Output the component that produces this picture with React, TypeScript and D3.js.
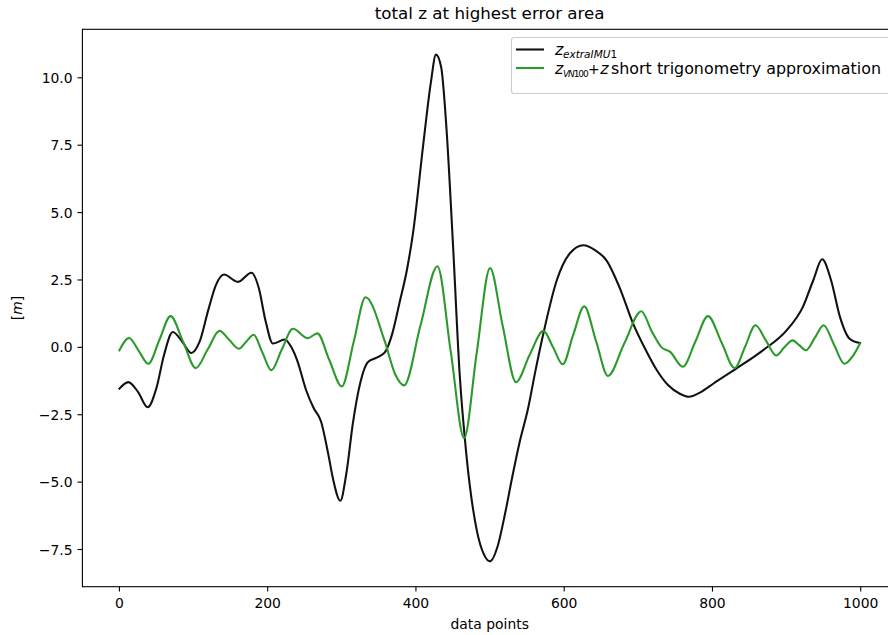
import React from "react";
import * as d3 from "d3";

// Sample index and value of the extra IMU z series (knots of a smooth trace)
const extraImuIndex = [0, 12, 25, 38, 50, 60, 72, 85, 97, 108, 120, 130, 141, 160, 178, 188, 197, 207, 223, 232, 240, 252, 262, 272, 282, 288, 298, 306, 315, 325, 335, 347, 358, 368, 378, 388, 396, 410, 420, 427, 434, 441, 450, 459, 468, 482, 492, 500, 510, 520, 530, 540, 551, 561, 571, 590, 608, 626, 642, 657, 675, 693, 710, 725, 740, 756, 768, 785, 801, 832, 868, 900, 922, 936, 948, 960, 972, 985, 999];
const extraImuZ = [-1.53, -1.29, -1.65, -2.22, -1.5, -0.3, 0.57, 0.2, -0.21, 0.2, 1.4, 2.3, 2.7, 2.43, 2.77, 2.2, 1.0, 0.14, 0.29, 0.0, -0.5, -1.6, -2.25, -2.75, -4.0, -4.86, -5.69, -4.7, -2.8, -1.3, -0.55, -0.38, -0.19, 0.5, 1.67, 2.9, 4.23, 7.56, 9.8, 10.86, 10.4, 8.2, 3.8, -1.0, -3.97, -6.78, -7.7, -7.94, -7.4, -6.2, -4.8, -3.5, -2.3, -0.9, 0.4, 2.49, 3.5, 3.79, 3.6, 3.23, 2.2, 0.88, -0.1, -0.85, -1.4, -1.72, -1.83, -1.65, -1.35, -0.79, -0.11, 0.63, 1.5, 2.49, 3.27, 2.49, 1.13, 0.32, 0.16];

// Sample index and value of the VN100 z + short trigonometry approximation
const vnIndex = [0, 13, 26, 39, 54, 69, 86, 103, 119, 135, 148, 161, 171, 181, 193, 205, 219, 234, 254, 267, 283, 300, 316, 332, 358, 372, 384, 406, 429, 447, 465, 482, 500, 517, 535, 553, 572, 585, 598, 612, 627, 643, 659, 681, 704, 718, 731, 743, 760, 777, 794, 812, 830, 844, 858, 872, 886, 897, 908, 917, 926, 938, 950, 964, 978, 990, 999];
const vnZ = [-0.11, 0.35, -0.13, -0.61, 0.28, 1.16, 0.2, -0.77, -0.08, 0.61, 0.28, -0.05, 0.21, 0.47, -0.2, -0.85, -0.08, 0.69, 0.34, 0.52, -0.46, -1.45, 0.2, 1.86, 0.22, -1.0, -1.41, 0.8, 3.01, -0.17, -3.36, -0.2, 2.94, 0.8, -1.29, -0.3, 0.61, 0.0, -0.63, 0.45, 1.52, 0.23, -1.06, 0.14, 1.34, 0.6, 0.01, -0.17, -0.72, 0.22, 1.16, 0.2, -0.77, 0.02, 0.82, 0.26, -0.3, 0.0, 0.26, 0.08, -0.11, 0.35, 0.82, 0.1, -0.61, -0.3, 0.14];

const xTicks = [0, 200, 400, 600, 800, 1000];
const yTicks = [-7.5, -5.0, -2.5, 0.0, 2.5, 5.0, 7.5, 10.0];

const W = 888;
const H = 635;
const left = 82.4;
const right = 897;
const top = 29.3;
const bottom = 586.7;

const FONT = "'DejaVu Sans', sans-serif";
const BLACK = "#111111";
const GREEN = "#2a9a2a";
const LEGEND_FONT = 15.9;
const SUB_FONT = 10.5;

export default function App() {
  const x = d3.scaleLinear().domain([-49.95, 1048.95]).range([left, right]);
  const y = d3.scaleLinear().domain([-8.88, 11.8]).range([bottom, top]);

  const line = d3
    .line<[number, number]>()
    .x((d) => x(d[0]))
    .y((d) => y(d[1]))
    .curve(d3.curveMonotoneX);

  const imuPath = line(extraImuIndex.map((v, i) => [v, extraImuZ[i]]));
  const vnPath = line(vnIndex.map((v, i) => [v, vnZ[i]]));

  const fmt = (v: number) => v.toFixed(1).replace("-", "\u2212");

  return (
    <div style={{ position: "fixed", left: 0, top: 0 }}>
      <svg width={W} height={H} style={{ display: "block", background: "#fff" }}>
        <defs>
          <clipPath id="plot-area">
            <rect x={left} y={top} width={right - left} height={bottom - top} />
          </clipPath>
        </defs>

        {/* title */}
        <text x={(left + right) / 2} y={19} textAnchor="middle" fontFamily={FONT} fontSize={16.7} fill="#000">
          total z at highest error area
        </text>

        {/* series */}
        <g clipPath="url(#plot-area)" fill="none" strokeWidth={2.08} strokeLinejoin="round" strokeLinecap="square">
          <path d={imuPath ?? ""} stroke={BLACK} />
          <path d={vnPath ?? ""} stroke={GREEN} />
        </g>

        {/* spines */}
        <rect x={left} y={top} width={right - left} height={bottom - top} fill="none" stroke="#000" strokeWidth={1.1} />

        {/* x axis */}
        {xTicks.map((t) => (
          <g key={`xt${t}`}>
            <line x1={x(t)} x2={x(t)} y1={bottom} y2={bottom + 4.9} stroke="#000" strokeWidth={1.1} />
            <text x={x(t)} y={608} textAnchor="middle" fontFamily={FONT} fontSize={13.9} fill="#000">
              {t}
            </text>
          </g>
        ))}
        <text x={(left + right) / 2} y={629} textAnchor="middle" fontFamily={FONT} fontSize={13.9} fill="#000">
          data points
        </text>

        {/* y axis */}
        {yTicks.map((t) => (
          <g key={`yt${t}`}>
            <line x1={left - 4.9} x2={left} y1={y(t)} y2={y(t)} stroke="#000" strokeWidth={1.1} />
            <text x={72.6} y={y(t)} dy="0.36em" textAnchor="end" fontFamily={FONT} fontSize={13.9} fill="#000">
              {fmt(t)}
            </text>
          </g>
        ))}
        <text transform={`translate(22,${(top + bottom) / 2}) rotate(-90)`} textAnchor="middle" fontFamily={FONT} fontSize={13.9} fill="#000">
          [<tspan fontStyle="italic">m</tspan>]
        </text>

        {/* legend */}
        <g>
          <rect x={511.5} y={37.5} width={380} height={56} rx={2.8} fill="#fff" fillOpacity={0.8} stroke="#cccccc" strokeWidth={1.1} />
          <line x1={516} x2={544} y1={49.5} y2={49.5} stroke={BLACK} strokeWidth={2.08} />
          <line x1={516} x2={544} y1={68} y2={68} stroke={GREEN} strokeWidth={2.08} />
          <text fontFamily={FONT} fontSize={LEGEND_FONT} fill="#000">
            <tspan x={555} y={55} fontStyle="italic">z</tspan>
            <tspan x={563} y={58} fontSize={SUB_FONT} fontStyle="italic">extraIMU</tspan>
            <tspan fontSize={SUB_FONT}>1</tspan>
          </text>
          <text fontFamily={FONT} fontSize={LEGEND_FONT} fill="#000">
            <tspan x={555} y={73.5} fontStyle="italic">z</tspan>
            <tspan x={563} y={76.5} fontSize={9} fontStyle="italic" letterSpacing={-1.1}>VN</tspan>
            <tspan fontSize={9} letterSpacing={-1.1}>100</tspan>
            <tspan x={588} y={73.5} fontSize={14}>+</tspan>
            <tspan x={600.2} y={73.5} fontStyle="italic">z</tspan>
            <tspan x={611} y={73.5}>short trigonometry approximation</tspan>
          </text>
        </g>
      </svg>
    </div>
  );
}
